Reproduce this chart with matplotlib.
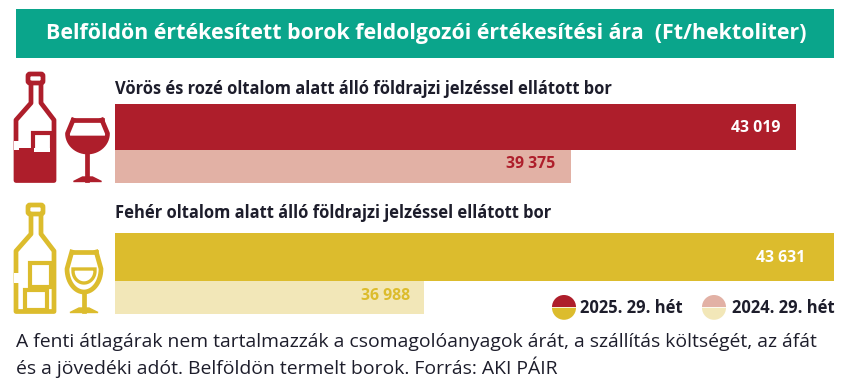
import numpy as np
import matplotlib
matplotlib.use("Agg")
import matplotlib.pyplot as plt
from matplotlib.patches import Rectangle, Wedge, Polygon, FancyBboxPatch

W, H = 862, 384

title = "Belföldön értékesített borok feldolgozói értékesítési ára  (Ft/hektoliter)"
group_labels = ["Vörös és rozé oltalom alatt álló földrajzi jelzéssel ellátott bor",
                "Fehér oltalom alatt álló földrajzi jelzéssel ellátott bor"]
values_2025 = [43019, 43631]
values_2024 = [39375, 36988]
value_labels_2025 = ["43 019", "43 631"]
value_labels_2024 = ["39 375", "36 988"]
legend_labels = ["2025. 29. hét", "2024. 29. hét"]
footnote = ["A fenti átlagárak nem tartalmazzák a csomagolóanyagok árát, a szállítás költségét, az áfát",
            "és a jövedéki adót. Belföldön termelt borok. Forrás: AKI PÁIR"]

TEAL = "#0aa58b"
RED = "#ae1e2b"
RED_PALE = "#e2b1a5"
YELLOW = "#dcbc2d"
YELLOW_PALE = "#f2e7b8"
DARK = "#1d1d2b"

plt.rcParams['font.family'] = ['Open Sans', 'DejaVu Sans']

fig = plt.figure(figsize=(W / 100, H / 100), dpi=100, facecolor="white")

# pixel canvas for banner, icons and text
canvas = fig.add_axes([0, 0, 1, 1])
canvas.set_xlim(0, W)
canvas.set_ylim(H, 0)
canvas.axis("off")

# value axis is truncated in the original, it starts near 32 000
ax = fig.add_axes([115 / W, 0, (834 - 115) / W, 1])
ax.set_xlim(31982, 43631)
ax.set_ylim(H, 0)
ax.axis("off")
ax.patch.set_alpha(0)
x0 = ax.get_xlim()[0]
px = (43631 - x0) / (834 - 115)

rows = [(104, 46, 150, 33), (233, 48, 281, 33)]
colors = [(RED, RED_PALE, "white", RED), (YELLOW, YELLOW_PALE, "white", YELLOW)]
pads_2025 = [16, 29]
pads_2024 = [16, 14]
for i, (y1, h1, y2, h2) in enumerate(rows):
    c1, c2, t1, t2 = colors[i]
    ax.barh(y1 + h1 / 2, values_2025[i] - x0, left=x0, height=h1, color=c1)
    ax.barh(y2 + h2 / 2, values_2024[i] - x0, left=x0, height=h2, color=c2)
    ax.text(values_2025[i] - pads_2025[i] * px, y1 + h1 / 2 + 0.5, value_labels_2025[i], color=t1, fontsize=11.4,
            fontweight="bold", ha="right", va="center")
    ax.text(values_2024[i] - pads_2024[i] * px, y2 + h2 / 2 - 2, value_labels_2024[i], color=t2, fontsize=11.4,
            fontweight="bold", ha="right", va="center")
    canvas.text(115, [89, 213][i], group_labels[i], color=DARK, fontsize=11.9, fontweight="bold",
                ha="left", va="center")

# banner
canvas.add_patch(Rectangle((16, 9), 818, 49, color=TEAL, lw=0))
canvas.text(426, 33, title, color="white", fontsize=15.4, fontweight="bold", ha="center", va="center")


def draw_bottle(c, top, bottom, lw=3.4):
    # outline of the bottle, from neck to base
    sh = top + 33
    xs = [31, 31, 16, 16, 54, 54, 41, 41]
    ys = [top + 10, top + 30, sh + 14, bottom, bottom, sh + 14, top + 30, top + 10]
    canvas.plot(xs, ys, color=c, lw=lw, solid_joinstyle="round", solid_capstyle="round")
    canvas.add_patch(FancyBboxPatch((28, top + 1), 15, 9, boxstyle="round,pad=0,rounding_size=2",
                                    fc="none", ec=c, lw=lw))


def draw_glass(c, cx, top, bowl_bottom, half, base_y, lw=3.4):
    t = np.linspace(0, np.pi, 30)
    mid = top + (bowl_bottom - top) * 0.42
    bx = cx + half * np.cos(t)
    by = mid + (bowl_bottom - mid) * np.sin(t)
    xs = np.r_[cx + half * 0.72, bx, cx - half * 0.72]
    ys = np.r_[top, by, top]
    canvas.plot(xs, ys, color=c, lw=lw, solid_joinstyle="round")
    canvas.plot([cx - half * 0.72, cx + half * 0.72], [top, top], color=c, lw=lw)
    canvas.plot([cx, cx], [bowl_bottom, base_y], color=c, lw=lw)
    canvas.add_patch(Polygon([(cx - 14, base_y + 1.5), (cx - 5, base_y - 3), (cx + 5, base_y - 3),
                              (cx + 14, base_y + 1.5)], closed=True, fc=c, ec=c, lw=1))


# red bottle and glass
draw_bottle(RED, 73, 180.5)
canvas.add_patch(Rectangle((16, 148), 38, 33, color=RED, lw=0))
canvas.add_patch(Rectangle((33, 133), 19, 20, fc="white", ec=RED, lw=3))
canvas.add_patch(Rectangle((34.5, 148), 16, 4, color="white", lw=0))
canvas.plot([16, 16], [143, 147], color="white", lw=3.6)
draw_glass(RED, 87.5, 120, 152, 20, 180)
t = np.linspace(0, np.pi, 30)
canvas.add_patch(Polygon(np.c_[87.5 + 18 * np.cos(t), 136 + 15 * np.sin(t)], closed=True, fc=RED, ec=RED, lw=0.5))

# yellow bottle and glass
draw_bottle(YELLOW, 204, 311.5)
canvas.add_patch(Rectangle((30, 263), 21, 24, fc="white", ec=YELLOW, lw=3))
canvas.add_patch(Rectangle((25, 290), 22, 20, fc="white", ec=YELLOW, lw=3))
canvas.plot([16, 16], [275, 280], color="white", lw=3.6)
draw_glass(YELLOW, 84, 252, 292, 17, 311)
canvas.add_patch(Polygon(np.r_[np.c_[84 + 11 * np.cos(t), 271 + 12 * np.sin(t)], [[73, 269], [95, 269]]],
                         closed=True, fc="white", ec=YELLOW, lw=2.4))

# legend dots, split in a red and a yellow half
legend_x = [564, 714]
legend_top = [RED, RED_PALE]
legend_bottom = [YELLOW, YELLOW_PALE]
legend_text_x = [580, 732]
for i in range(2):
    canvas.add_patch(Wedge((legend_x[i], 307), 12, 180, 360, color=legend_top[i], lw=0, zorder=4))
    canvas.add_patch(Wedge((legend_x[i], 307.8), 12, 0, 180, color=legend_bottom[i], lw=0, zorder=4))
    canvas.text(legend_text_x[i], 308, legend_labels[i], color=DARK, fontsize=11.9, fontweight="bold",
                ha="left", va="center", zorder=4)

canvas.text(16, 342, footnote[0], color=DARK, fontsize=13.95, ha="left", va="center")
canvas.text(16, 367, footnote[1], color=DARK, fontsize=13.95, ha="left", va="center")

fig.savefig("out.png", dpi=100)
